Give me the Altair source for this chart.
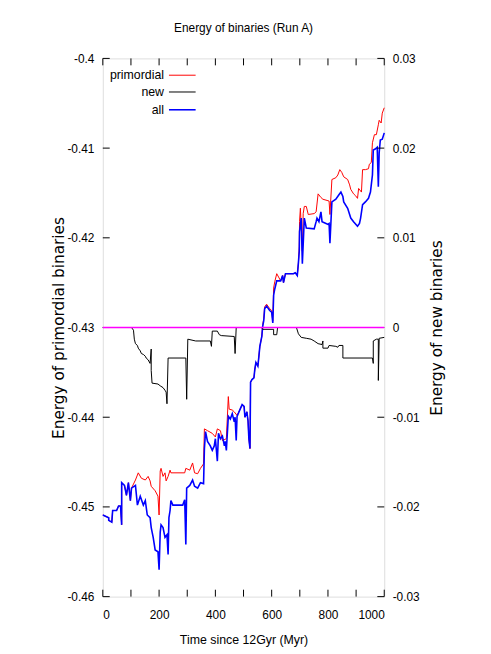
import altair as alt
import pandas as pd

# ---- data (time in Myr, energies) ----
all_binaries = [
    (0, -0.4509), (21, -0.4512), (21, -0.4515), (32, -0.4517), (35, -0.4504), (49, -0.4504),
    (56, -0.4499), (63, -0.4499), (67, -0.4520), (67, -0.4473), (77, -0.4476), (84, -0.4487),
    (91, -0.4473), (98, -0.4493), (102, -0.4479), (116, -0.4476), (123, -0.4498), (133, -0.4488),
    (144, -0.4498), (151, -0.4493), (158, -0.4509), (168, -0.4512), (172, -0.4523), (179, -0.4534),
    (186, -0.4548), (196, -0.4550), (200, -0.4570), (204, -0.4528), (207, -0.4520), (214, -0.4523),
    (221, -0.4534), (228, -0.4531), (232, -0.4553), (235, -0.4512), (239, -0.4504), (242, -0.4493),
    (249, -0.4498), (284, -0.4498), (291, -0.4492), (295, -0.4542), (298, -0.4479), (309, -0.4476),
    (319, -0.4470), (326, -0.4477), (337, -0.4479), (347, -0.4473), (358, -0.4474), (361, -0.4435),
    (365, -0.4416), (372, -0.4427), (382, -0.4432), (389, -0.4437), (396, -0.4432), (400, -0.4424),
    (407, -0.4449), (411, -0.4418), (418, -0.4424), (425, -0.4421), (432, -0.4432), (435, -0.4427),
    (439, -0.4437), (446, -0.4399), (453, -0.4402), (460, -0.4396), (467, -0.4405), (470, -0.4400),
    (474, -0.4426), (477, -0.4399), (488, -0.4391), (495, -0.4386), (502, -0.4388), (505, -0.4400),
    (512, -0.4394), (516, -0.4404), (519, -0.4424), (523, -0.4435), (525, -0.4361), (530, -0.4358),
    (537, -0.4356), (540, -0.4347), (544, -0.4339), (551, -0.4343), (554, -0.4334), (558, -0.4321),
    (565, -0.4310), (568, -0.4299), (572, -0.4292), (575, -0.4279), (582, -0.4276), (593, -0.4281),
    (600, -0.4283), (604, -0.4295), (607, -0.4264), (611, -0.4257), (618, -0.4248), (632, -0.4248),
    (639, -0.4242), (642, -0.4250), (649, -0.4240), (677, -0.4240), (684, -0.4239), (691, -0.4242),
    (695, -0.4228), (698, -0.4215), (699, -0.4193), (702, -0.4185), (705, -0.4178), (709, -0.4229),
    (712, -0.4207), (716, -0.4178), (723, -0.4189), (751, -0.4190), (758, -0.4182), (761, -0.4178),
    (768, -0.4182), (775, -0.4171), (779, -0.4182), (793, -0.4184), (800, -0.4185), (804, -0.4184),
    (807, -0.4206), (814, -0.4160), (828, -0.4157), (839, -0.4152), (846, -0.4149), (853, -0.4154),
    (856, -0.4160), (870, -0.4167), (881, -0.4178), (891, -0.4182), (905, -0.4187), (912, -0.4184),
    (916, -0.4178), (923, -0.4163), (933, -0.4160), (944, -0.4156), (951, -0.4149), (958, -0.4130),
    (961, -0.4102), (968, -0.4101), (975, -0.4099), (979, -0.4143), (982, -0.4105), (986, -0.4091),
    (993, -0.4090), (1000, -0.4083),
]

primordial = [
    (0, -0.4509), (21, -0.4512), (21, -0.4515), (32, -0.4517), (35, -0.4504), (49, -0.4504),
    (56, -0.4499), (63, -0.4499), (67, -0.4520), (67, -0.4473), (77, -0.4476), (84, -0.4487),
    (91, -0.4473), (98, -0.4493), (102, -0.4479), (116, -0.4470), (126, -0.4462), (137, -0.4468),
    (151, -0.4470), (161, -0.4466), (168, -0.4471), (172, -0.4477), (186, -0.4482), (196, -0.4488),
    (200, -0.4509), (204, -0.4460), (207, -0.4457), (214, -0.4466), (221, -0.4462), (225, -0.4471),
    (232, -0.4466), (239, -0.4459), (242, -0.4462), (291, -0.4462), (295, -0.4457), (309, -0.4459),
    (319, -0.4451), (326, -0.4462), (337, -0.4463), (347, -0.4457), (358, -0.4452), (361, -0.4413),
    (372, -0.4415), (389, -0.4418), (400, -0.4422), (407, -0.4413), (418, -0.4415), (425, -0.4426),
    (439, -0.4424), (446, -0.4377), (449, -0.4391), (460, -0.4392), (467, -0.4394), (477, -0.4398),
    (488, -0.4391), (495, -0.4386), (502, -0.4388), (505, -0.4400), (512, -0.4394), (516, -0.4404),
    (519, -0.4424), (523, -0.4435), (525, -0.4361), (530, -0.4358), (537, -0.4356), (540, -0.4347),
    (544, -0.4339), (551, -0.4343), (554, -0.4334), (558, -0.4321), (565, -0.4310), (568, -0.4297),
    (572, -0.4290), (575, -0.4277), (582, -0.4274), (593, -0.4279), (600, -0.4281), (604, -0.4293),
    (607, -0.4256), (611, -0.4249), (618, -0.4240), (632, -0.4248), (639, -0.4242), (642, -0.4250),
    (649, -0.4240), (677, -0.4240), (684, -0.4239), (691, -0.4242), (695, -0.4228), (698, -0.4210),
    (699, -0.4182), (702, -0.4167), (709, -0.4215), (712, -0.4173), (716, -0.4165), (723, -0.4165),
    (730, -0.4174), (751, -0.4173), (758, -0.4171), (765, -0.4151), (775, -0.4155), (782, -0.4157),
    (804, -0.4159), (807, -0.4174), (814, -0.4135), (828, -0.4133), (835, -0.4130), (842, -0.4124),
    (849, -0.4127), (856, -0.4132), (870, -0.4135), (877, -0.4141), (881, -0.4146), (891, -0.4151),
    (898, -0.4153), (905, -0.4156), (909, -0.4145), (919, -0.4149), (923, -0.4124), (933, -0.4124),
    (944, -0.4123), (947, -0.4118), (954, -0.4116), (958, -0.4094), (965, -0.4085), (972, -0.4085),
    (979, -0.4074), (982, -0.4069), (989, -0.4072), (993, -0.4061), (1000, -0.4055),
]

new_binaries = [
    (0, 0.0), (102, 0.0), (109, -0.0003), (112, -0.0013), (116, -0.0018), (123, -0.0020),
    (126, -0.0023), (133, -0.0026), (137, -0.0029), (144, -0.0030), (151, -0.0032), (154, -0.0034),
    (161, -0.0036), (168, -0.0040), (172, -0.0024), (172, -0.0048), (175, -0.0062), (196, -0.0063),
    (204, -0.0065), (214, -0.0067), (221, -0.0070), (225, -0.0072), (228, -0.0085), (232, -0.0034),
    (295, -0.0034), (298, -0.0080), (302, -0.0013), (330, -0.0015), (382, -0.0015), (386, -0.0021),
    (389, -0.0004), (407, -0.0004), (414, -0.0008), (421, -0.0009), (467, -0.0010), (470, -0.0029),
    (474, 0.0), (565, 0.0), (568, -0.0002), (607, -0.0002), (607, -0.0008), (618, -0.0008),
    (621, 0.0), (688, 0.0), (695, -0.0007), (705, -0.0011), (723, -0.0012), (740, -0.0013),
    (751, -0.0015), (765, -0.0018), (779, -0.0019), (782, -0.0015), (782, -0.0023), (800, -0.0023),
    (804, -0.0020), (828, -0.0021), (835, -0.0022), (839, -0.0020), (853, -0.0020), (853, -0.0034),
    (958, -0.0034), (961, -0.0040), (961, -0.0015), (972, -0.0013), (979, -0.0013), (979, -0.0059),
    (982, -0.0012), (1000, -0.0011),
]

x_ticks = [0, 100, 200, 300, 400, 500, 600, 700, 800, 900, 1000]
left_ticks = [-0.46, -0.45, -0.44, -0.43, -0.42, -0.41, -0.40]
right_ticks = [-0.03, -0.02, -0.01, 0, 0.01, 0.02, 0.03]
legend_labels = ["primordial", "new", "all"]
legend_colors = ["#ff0000", "#000000", "#0000ff"]

# ---- layout / style ----
W, H = 285, 545
NARROW = "Liberation Sans Narrow, Liberation Sans, Arial, sans-serif"
WIDE = "DejaVu Sans, Verdana, sans-serif"
HYPHEN = "replace(datum.label, '\u2212', '-')"


def frame(pairs, ycol):
    df = pd.DataFrame(pairs, columns=["t", ycol])
    df["i"] = range(len(df))
    return df


df_all = frame(all_binaries, "e")
df_prim = frame(primordial, "e")
df_new = frame(new_binaries, "n")

X = alt.X(
    "t:Q",
    scale=alt.Scale(domain=[0, 1000], nice=False, zero=False),
    axis=alt.Axis(
        values=x_ticks, format="d", title="Time since 12Gyr (Myr)", ticks=False, domain=False,
        grid=False, labelPadding=13, titlePadding=13, labelFont=NARROW, labelFontSize=12,
        titleFont=NARROW, titleFontSize=12.5, titleFontWeight="normal",
        labelColor="black", titleColor="black",
    ),
)
YL = alt.Y(
    "e:Q",
    scale=alt.Scale(domain=[-0.46, -0.40], nice=False, zero=False),
    axis=alt.Axis(
        values=left_ticks, format=".2~f", labelExpr=HYPHEN,
        title="Energy of primordial binaries", ticks=False,
        domain=False, grid=False, labelPadding=9, titlePadding=0, labelFont=NARROW,
        labelFontSize=12, titleFont=WIDE, titleFontSize=15.5, titleFontWeight="normal",
        labelColor="black", titleColor="black",
    ),
)
YR = alt.Y(
    "n:Q",
    scale=alt.Scale(domain=[-0.03, 0.03], nice=False, zero=False),
    axis=alt.Axis(
        orient="right", values=right_ticks, format=".2~f", labelExpr=HYPHEN,
        title="Energy of new binaries",
        titleAngle=270, ticks=False, domain=False, grid=False, labelPadding=8, titlePadding=26,
        labelFont=NARROW, labelFontSize=12, titleFont=WIDE, titleFontSize=15.5,
        titleFontWeight="normal", labelColor="black", titleColor="black",
    ),
)

prim_line = alt.Chart(df_prim).mark_line(color=legend_colors[0], strokeWidth=1).encode(
    x=X, y=YL, order="i:Q")
all_line = alt.Chart(df_all).mark_line(color=legend_colors[2], strokeWidth=1.6).encode(
    x=X, y=YL, order="i:Q")

df_lt = pd.DataFrame({"e": left_ticks})
df_xt = pd.DataFrame({"t": x_ticks})
tick_l = alt.Chart(df_lt).mark_rule(color="black", strokeWidth=1).encode(
    y=YL, x=alt.value(0), x2=alt.value(7))
tick_r = alt.Chart(df_lt).mark_rule(color="black", strokeWidth=1).encode(
    y=YL, x=alt.value(W - 7), x2=alt.value(W))
tick_t = alt.Chart(df_xt).mark_rule(color="black", strokeWidth=1).encode(
    x=X, y=alt.value(0), y2=alt.value(7))
tick_b = alt.Chart(df_xt).mark_rule(color="black", strokeWidth=1).encode(
    x=X, y=alt.value(H - 7), y2=alt.value(H))

legend_layers = []
leg_y = [17, 34, 52]
leg_w = [1, 1, 1.6]
for lab, col, yy, sw in zip(legend_labels, legend_colors, leg_y, leg_w):
    d = pd.DataFrame({"k": [0]})
    legend_layers.append(
        alt.Chart(d).mark_text(text=lab, align="right", baseline="middle", font=NARROW,
                               fontSize=12.5, color="black")
        .encode(x=alt.value(62), y=alt.value(yy)))
    legend_layers.append(
        alt.Chart(d).mark_rule(color=col, strokeWidth=sw)
        .encode(x=alt.value(67), x2=alt.value(94), y=alt.value(yy)))

left = alt.layer(prim_line, all_line, tick_l, tick_r, tick_t, tick_b, *legend_layers)

new_line = alt.Chart(df_new).mark_line(color=legend_colors[1], strokeWidth=1).encode(
    x=X, y=YR, order="i:Q")
zero_line = alt.Chart(pd.DataFrame({"n": [0.0]})).mark_rule(
    color="#ff00ff", strokeWidth=1.5).encode(y=YR, x=alt.value(0), x2=alt.value(W))
right = alt.layer(new_line, zero_line)

chart = (
    alt.layer(left, right)
    .resolve_scale(y="independent")
    .properties(
        width=W, height=H,
        title=alt.TitleParams("Energy of binaries (Run A)", font=NARROW, fontSize=12,
                              fontWeight="normal", color="black", anchor="middle", offset=18),
        padding={"left": 96, "top": 47, "right": 100, "bottom": 50},
        autosize=alt.AutoSizeParams(type="none"),
    )
    .configure_view(stroke="black", strokeWidth=1)
    .configure(background="white")
)

chart.save("out.html", embed_options={"renderer": "svg", "actions": False})
